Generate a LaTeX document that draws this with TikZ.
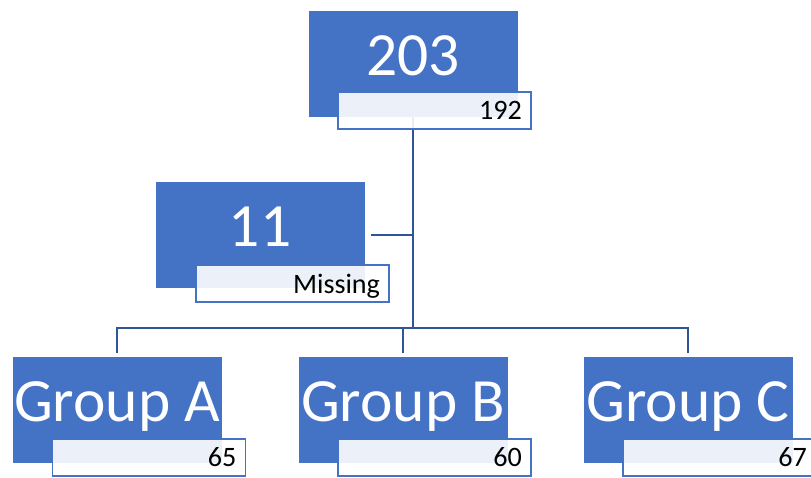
\documentclass[tikz,border=0pt]{standalone}
\usepackage{fontspec}
\setmainfont{Carlito}
\usepackage{xcolor}
\usepackage{tikz}
\usetikzlibrary{positioning,calc}
\definecolor{boxblue}{RGB}{68, 114, 196}
\definecolor{linkblue}{RGB}{47, 85, 151}

\tikzset{
    groupbox/.style={fill=boxblue, draw=white, line width=0.4pt, text=white,
        minimum width=4.2cm, minimum height=2.14cm, inner sep=0pt,
        text depth=0.32cm, font=\fontsize{35}{40}\selectfont},
    countbox/.style={fill=white, fill opacity=0.9, text opacity=1, draw=boxblue, line width=1pt,
        text width=3.5cm, align=right, minimum height=0.74cm, inner xsep=0.18cm, inner ysep=0pt,
        text depth=0pt, font=\fontsize{16}{19}\selectfont},
    link/.style={draw=linkblue, line width=1.6pt}
}

\begin{document}
\begin{tikzpicture}[x=0.02cm, y=-0.02cm]
    \useasboundingbox (0,0) rectangle (811,477);

    % Main boxes
    \node[groupbox] (total) at (413,63.5) {203};
    \node[groupbox] (missing) at (260,235) {11};
    \node[groupbox] (grpA) at (117,409.5) {Group A};
    \node[groupbox] (grpB) at (403,409.5) {Group B};
    \node[groupbox] (grpC) at (688,409.5) {Group C};

    % Connectors
    \coordinate (bus) at (413,328);
    \draw[link] (total.south) -- (bus);
    \draw[link, shorten <=3pt] (missing.east) -- (missing.east -| bus);
    \draw[link] (grpA.north) ++(0,-3) |- (bus) -| ($(grpC.north)+(0,-3)$);
    \draw[link] ($(grpB.north)+(0,-3)$) -- (grpB.north |- bus);

    % Count labels
    \node[countbox] (totalcount) at (434.5,110.5) {192};
    \node[countbox] (missingcount) at (292.5,283.5) {Missing};
    \node[countbox] (grpAcount) at (149,457.5) {65};
    \node[countbox] (grpBcount) at (434.5,457.5) {60};
    \node[countbox] (grpCcount) at (719.5,457.5) {67};
\end{tikzpicture}
\end{document}
